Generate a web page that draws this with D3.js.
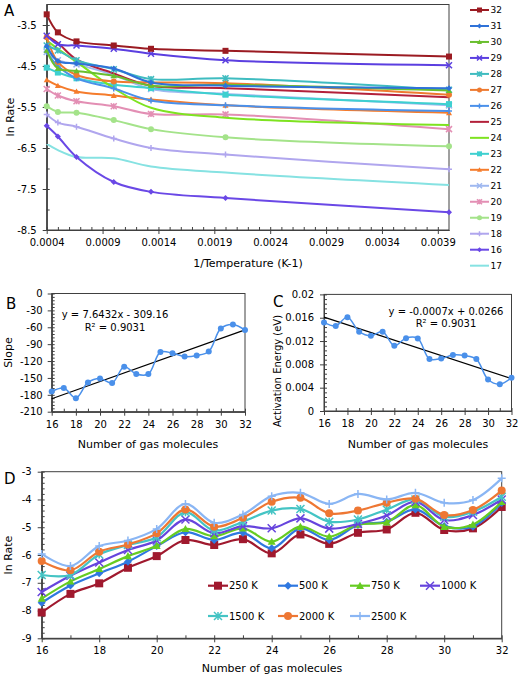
<!DOCTYPE html>
<html><head><meta charset="utf-8">
<script src="https://cdn.jsdelivr.net/npm/d3@7"></script>
<style>
body{margin:0;background:#fff}
svg{display:block}
text{font-family:"DejaVu Sans",Verdana,sans-serif;fill:#000}
</style>
</head><body>
<svg id="chart" width="520" height="678"></svg>
<script>
// ---------------- DATA ----------------
const molecules = [16,17,18,19,20,21,22,23,24,25,26,27,28,29,30,31,32];
const temperatures = [250, 500, 750, 1000, 1500, 2000, 2500];
const temperatureLabels = ["250 K","500 K","750 K","1000 K","1500 K","2000 K","2500 K"];

const lnRate250K  = [-8.07,-7.40,-7.02,-6.46,-6.04,-5.46,-5.64,-5.43,-5.94,-5.26,-5.60,-5.20,-5.08,-4.48,-5.10,-5.04,-4.27];
const lnRate500K  = [-7.72,-7.10,-6.66,-6.24,-5.68,-5.18,-5.46,-5.20,-5.76,-5.04,-5.46,-4.92,-4.80,-4.36,-4.96,-4.98,-4.13];
const lnRate750K  = [-7.57,-6.95,-6.50,-6.04,-5.67,-5.06,-5.32,-5.04,-5.52,-4.98,-5.34,-4.90,-4.82,-4.20,-4.98,-4.90,-4.08];
const lnRate1000K = [-7.33,-6.75,-6.27,-5.82,-5.48,-4.72,-5.22,-4.96,-5.04,-4.68,-5.05,-4.88,-4.58,-4.08,-4.74,-4.56,-4.00];
const lnRate1500K = [-6.72,-6.72,-5.98,-5.64,-5.36,-4.46,-5.12,-4.80,-4.40,-4.34,-4.80,-4.72,-4.36,-4.00,-4.62,-4.44,-3.90];
const lnRate2000K = [-6.22,-6.55,-5.88,-5.62,-5.22,-4.36,-4.98,-4.66,-4.08,-3.94,-4.50,-4.40,-4.12,-3.97,-4.56,-4.38,-3.68];
const lnRate2500K = [-5.96,-6.40,-5.68,-5.48,-5.06,-4.16,-4.84,-4.54,-3.88,-3.76,-4.16,-3.80,-4.00,-3.76,-4.12,-4.02,-3.24];

const slopeValues = [-174,-168,-186,-158,-151,-159,-130,-143,-143,-104,-106,-112,-110,-103,-62,-55,-65];
const activationEnergy = [0.0152,0.0146,0.0161,0.0136,0.0129,0.0136,0.0112,0.0125,0.01245,0.0089,0.0090,0.0096,0.0095,0.0089,0.0054,0.0046,0.0057];
const slopeTrendEnds = [-186.9, -64.6];      // trend line at 16 and 32
const energyTrendEnds = [0.0161, 0.00557];   // trend line at 16 and 32
const slopeEquation = ["y = 7.6432x - 309.16", "R² = 0.9031"];
const energyEquation = ["y = -0.0007x + 0.0266", "R² = 0.9031"];

const legendOrderA = [32,31,30,29,28,27,26,25,24,23,22,21,20,19,18,16,17];
const aXTicks = [0.0004,0.0009,0.0014,0.0019,0.0024,0.0029,0.0034,0.0039];
const aYTicks = [-3.5,-4.5,-5.5,-6.5,-7.5,-8.5];
const bYTicks = [0,-30,-60,-90,-120,-150,-180,-210];
const cYTicks = [0,0.004,0.008,0.012,0.016,0.02];
const dYTicks = [-3,-4,-5,-6,-7,-8,-9];
const nTicks = [16,18,20,22,24,26,28,30,32];

// ---------------- STYLES ----------------
const styleA = {
  32:{color:"#9b1b22",marker:"square"},
  31:{color:"#2f72d8",marker:"diamond"},
  30:{color:"#6abf2e",marker:"triangle"},
  29:{color:"#5b3fe0",marker:"x"},
  28:{color:"#3fbcc0",marker:"asterisk"},
  27:{color:"#ee7a30",marker:"circle"},
  26:{color:"#4a90ea",marker:"plus"},
  25:{color:"#b3203a",marker:"none"},
  24:{color:"#7ee320",marker:"none"},
  23:{color:"#3ed0d0",marker:"square"},
  22:{color:"#f57c2c",marker:"triangle"},
  21:{color:"#9fb8f0",marker:"x"},
  20:{color:"#e38fb4",marker:"asterisk"},
  19:{color:"#a4e38a",marker:"circle"},
  18:{color:"#b0a6ee",marker:"plus"},
  16:{color:"#6a48e6",marker:"diamond"},
  17:{color:"#86e2e2",marker:"none"}
};
const styleD = [
  {color:"#a0192e",marker:"square"},
  {color:"#2f78e0",marker:"diamond"},
  {color:"#66cc22",marker:"triangle"},
  {color:"#6644dd",marker:"x"},
  {color:"#44c4c4",marker:"asterisk"},
  {color:"#ee7733",marker:"circle"},
  {color:"#8ab6f4",marker:"plus"}
];
const axisColor = "#404040";

const lnRateByTemp = [lnRate250K,lnRate500K,lnRate750K,lnRate1000K,lnRate1500K,lnRate2000K,lnRate2500K];

const svg = d3.select("#chart");

function marker(g, type, x, y, s, color){
  const h = s/2;
  if(type==="none") return;
  if(type==="square"){
    g.append("rect").attr("x",x-h).attr("y",y-h).attr("width",s).attr("height",s).attr("fill",color);
  } else if(type==="diamond"){
    g.append("path").attr("d",`M${x},${y-h}L${x+h},${y}L${x},${y+h}L${x-h},${y}Z`).attr("fill",color);
  } else if(type==="triangle"){
    g.append("path").attr("d",`M${x},${y-h}L${x+h},${y+h*0.8}L${x-h},${y+h*0.8}Z`).attr("fill",color);
  } else if(type==="circle"){
    g.append("circle").attr("cx",x).attr("cy",y).attr("r",h).attr("fill",color);
  } else if(type==="x"){
    g.append("path").attr("d",`M${x-h},${y-h}L${x+h},${y+h}M${x-h},${y+h}L${x+h},${y-h}`).attr("stroke",color).attr("stroke-width",1.5);
  } else if(type==="plus"){
    g.append("path").attr("d",`M${x-h},${y}L${x+h},${y}M${x},${y-h}L${x},${y+h}`).attr("stroke",color).attr("stroke-width",1.5);
  } else if(type==="asterisk"){
    g.append("path").attr("d",`M${x-h},${y-h}L${x+h},${y+h}M${x-h},${y+h}L${x+h},${y-h}M${x},${y-h}L${x},${y+h}`).attr("stroke",color).attr("stroke-width",1.5);
  }
}

function styleAxis(g){
  g.selectAll(".domain").attr("stroke",axisColor);
  g.selectAll(".tick line").attr("stroke",axisColor);
  g.selectAll("text").attr("font-size","10px").style("font-family","'DejaVu Sans',Verdana,sans-serif").attr("fill","#000");
}

function drawAxes(g, x, y, xMajor, xMinor, yMajor, yMinor, xFmt, yFmt, yPad){
  const [x0,x1] = x.range(), [y0,y1] = y.range();
  g.append("rect").attr("x",x0).attr("y",y1).attr("width",x1-x0).attr("height",y0-y1)
    .attr("fill","none").attr("stroke",axisColor).attr("stroke-width",1);
  const xa = g.append("g").attr("transform",`translate(0,${y0})`)
    .call(d3.axisBottom(x).tickValues(xMajor).tickFormat(xFmt).tickSizeInner(4).tickSizeOuter(0).tickPadding(5));
  styleAxis(xa);
  const xin = g.append("g").attr("transform",`translate(0,${y0})`)
    .call(d3.axisTop(x).tickValues(xMajor.concat(xMinor)).tickFormat("").tickSizeInner(3).tickSizeOuter(0));
  styleAxis(xin);
  const ya = g.append("g").attr("transform",`translate(${x0},0)`)
    .call(d3.axisLeft(y).tickValues(yMajor).tickFormat(yFmt).tickSizeInner(4).tickSizeOuter(0).tickPadding(yPad));
  styleAxis(ya);
  const yin = g.append("g").attr("transform",`translate(${x0},0)`)
    .call(d3.axisRight(y).tickValues(yMajor.concat(yMinor)).tickFormat("").tickSizeInner(3).tickSizeOuter(0));
  styleAxis(yin);
}

function title(x, y, txt, rotate, size){
  const t = svg.append("text").attr("font-size",(size||11)+"px").attr("text-anchor","middle").text(txt);
  if(rotate) t.attr("transform",`translate(${x},${y}) rotate(-90)`);
  else t.attr("x",x).attr("y",y);
  return t;
}

// ---------------- PANEL A ----------------
{
  const g = svg.append("g");
  const x = d3.scaleLinear().domain([0.0004,0.004]).range([46.7,449]);
  const y = d3.scaleLinear().domain([-8.5,-3]).range([230,4.5]);
  const xMinor = d3.range(0.0005,0.004,0.0001).filter(v=>!aXTicks.some(t=>Math.abs(t-v)<1e-9));
  const yMinor = d3.range(-8,-3,1);
  drawAxes(g,x,y,aXTicks,xMinor,aYTicks,yMinor,d=>d.toFixed(4),d=>d.toFixed(1),6);
  const line = d3.line().x(d=>x(1/d[0])).y(d=>y(d[1])).curve(d3.curveCatmullRom.alpha(0.5));
  const drawOrder = legendOrderA.slice().reverse();
  drawOrder.forEach(n=>{
    const i = molecules.indexOf(n);
    const pts = temperatures.map((t,k)=>[t, lnRateByTemp[k][i]]);
    const st = styleA[n];
    g.append("path").datum(pts).attr("d",line).attr("fill","none").attr("stroke",st.color).attr("stroke-width",2);
    pts.forEach(p=>marker(g,st.marker,x(1/p[0]),y(p[1]),6,st.color));
  });
  legendOrderA.forEach((n,k)=>{
    const yy = 10 + k*15.98, st = styleA[n];
    g.append("line").attr("x1",470).attr("x2",489).attr("y1",yy).attr("y2",yy).attr("stroke",st.color).attr("stroke-width",2);
    marker(g,st.marker,479.5,yy,5,st.color);
    g.append("text").attr("x",490.5).attr("y",yy).attr("dy","0.35em").attr("font-size","9px").text(n);
  });
  title(14,117,"ln Rate",true,11);
  title(248,267,"1/Temperature (K-1)",false,11);
  svg.append("text").attr("x",4).attr("y",16).attr("font-size","15px").text("A");
}

// ---------------- PANEL B ----------------
{
  const g = svg.append("g");
  const x = d3.scaleLinear().domain([16,32]).range([51.7,245]);
  const y = d3.scaleLinear().domain([-210,0]).range([411.7,293.5]);
  const xMinor = d3.range(17,32,2);
  const yMinor = d3.range(-204,0,6).filter(v=>v%30!==0);
  drawAxes(g,x,y,nTicks,xMinor,bYTicks,yMinor,d=>String(d),d=>String(d),5);
  g.append("line").attr("x1",x(16)).attr("x2",x(32)).attr("y1",y(slopeTrendEnds[0])).attr("y2",y(slopeTrendEnds[1]))
    .attr("stroke","#000").attr("stroke-width",1.2);
  const pts = molecules.map((n,i)=>[n,slopeValues[i]]);
  g.append("path").datum(pts).attr("d",d3.line().x(d=>x(d[0])).y(d=>y(d[1])).curve(d3.curveCatmullRom.alpha(0.5)))
    .attr("fill","none").attr("stroke","#4a90ea").attr("stroke-width",1.5);
  pts.forEach(p=>g.append("circle").attr("cx",x(p[0])).attr("cy",y(p[1])).attr("r",3).attr("fill","#4a90ea"));
  g.append("text").attr("x",115).attr("y",318).attr("text-anchor","middle").attr("font-size","10px").text(slopeEquation[0]);
  g.append("text").attr("x",115).attr("y",331).attr("text-anchor","middle").attr("font-size","10px").text(slopeEquation[1]);
  title(12,352.6,"Slope",true,11);
  title(148,448,"Number of gas molecules",false,11);
  svg.append("text").attr("x",6).attr("y",309).attr("font-size","15px").text("B");
}

// ---------------- PANEL C ----------------
{
  const g = svg.append("g");
  const x = d3.scaleLinear().domain([16,32]).range([324,511.5]);
  const y = d3.scaleLinear().domain([0,0.02]).range([411,294.4]);
  const xMinor = d3.range(17,32,2);
  const yMinor = d3.range(0.0008,0.02,0.0008).filter(v=>Math.abs(v/0.004-Math.round(v/0.004))>1e-6);
  drawAxes(g,x,y,nTicks,xMinor,cYTicks,yMinor,d=>String(d),d=>String(+d.toFixed(3)),6);
  g.append("line").attr("x1",x(16)).attr("x2",x(32)).attr("y1",y(energyTrendEnds[0])).attr("y2",y(energyTrendEnds[1]))
    .attr("stroke","#000").attr("stroke-width",1.2);
  const pts = molecules.map((n,i)=>[n,activationEnergy[i]]);
  g.append("path").datum(pts).attr("d",d3.line().x(d=>x(d[0])).y(d=>y(d[1])).curve(d3.curveCatmullRom.alpha(0.5)))
    .attr("fill","none").attr("stroke","#4a90ea").attr("stroke-width",1.5);
  pts.forEach(p=>g.append("circle").attr("cx",x(p[0])).attr("cy",y(p[1])).attr("r",3).attr("fill","#4a90ea"));
  g.append("text").attr("x",446).attr("y",315).attr("text-anchor","middle").attr("font-size","10px").text(energyEquation[0]);
  g.append("text").attr("x",446).attr("y",327).attr("text-anchor","middle").attr("font-size","10px").text(energyEquation[1]);
  title(281,371,"Activation Energy (eV)",true,10);
  title(418,448,"Number of gas molecules",false,11);
  svg.append("text").attr("x",273).attr("y",307).attr("font-size","15px").text("C");
}

// ---------------- PANEL D ----------------
{
  const g = svg.append("g");
  const x = d3.scaleLinear().domain([16,32]).range([41.7,501.7]);
  const y = d3.scaleLinear().domain([-9,-3]).range([638.3,471.7]);
  const xMinor = d3.range(17,32,2);
  const yMinor = d3.range(-8.8,-3,0.2).filter(v=>Math.abs(v-Math.round(v))>1e-6);
  drawAxes(g,x,y,nTicks,xMinor,dYTicks,yMinor,d=>String(d),d=>String(d),6);
  const line = d3.line().x(d=>x(d[0])).y(d=>y(d[1])).curve(d3.curveCatmullRom.alpha(0.5));
  lnRateByTemp.forEach((arr,k)=>{
    const pts = molecules.map((n,i)=>[n,arr[i]]);
    const st = styleD[k];
    g.append("path").datum(pts).attr("d",line).attr("fill","none").attr("stroke",st.color).attr("stroke-width",2.2);
    pts.forEach(p=>marker(g,st.marker,x(p[0]),y(p[1]),8,st.color));
  });
  const legendPos = [[208,585.7],[278,585.7],[350,585.7],[420,585.7],[208,616],[278,616],[350,616]];
  temperatureLabels.forEach((lab,k)=>{
    const [lx,ly] = legendPos[k], st = styleD[k];
    g.append("line").attr("x1",lx).attr("x2",lx+20).attr("y1",ly).attr("y2",ly).attr("stroke",st.color).attr("stroke-width",2.2);
    marker(g,st.marker,lx+10,ly,8,st.color);
    g.append("text").attr("x",lx+21).attr("y",ly).attr("dy","0.35em").attr("font-size","10px").text(lab);
  });
  title(12,555,"ln Rate",true,11);
  title(272,672,"Number of gas molecules",false,11);
  svg.append("text").attr("x",4).attr("y",484).attr("font-size","15px").text("D");
}
</script>
</body></html>
